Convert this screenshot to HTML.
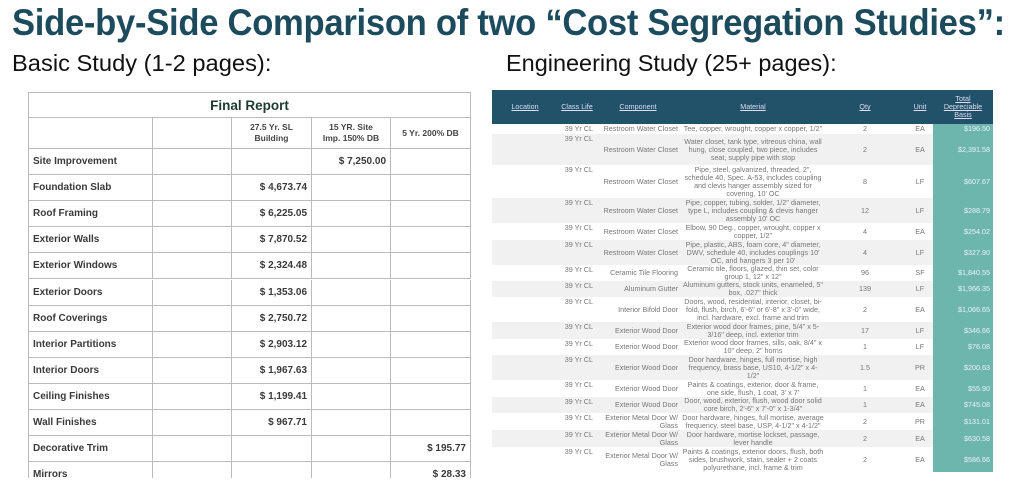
<!DOCTYPE html>
<html><head><meta charset="utf-8">
<style>
*{margin:0;padding:0;box-sizing:border-box}
body{width:1024px;height:499px;background:#fff;position:relative;overflow:hidden;font-family:"Liberation Sans",sans-serif}
.abs{position:absolute}
#title{left:12px;top:2px;font-size:37px;font-weight:bold;color:#1d4b5e;white-space:nowrap;transform-origin:0 0;transform:scaleX(0.935);letter-spacing:-0.3px}
.sub{top:50px;font-size:23px;color:#111;white-space:nowrap;transform-origin:0 0}
#left{left:28px;top:92px;width:443px;height:386px;overflow:hidden}
.lc{position:absolute;border-right:1px solid #bbb;border-bottom:1px solid #bbb;font-size:10px;color:#3a3a3a;font-weight:bold;display:flex;align-items:center;white-space:nowrap}
.rt{position:absolute;font-size:7.2px;color:#777;white-space:nowrap;line-height:8px}
</style></head><body>
<div id="title" class="abs">Side-by-Side Comparison of two “Cost Segregation Studies”:</div>
<div class="abs sub" style="left:12px;transform:scaleX(1.03)">Basic Study (1-2 pages):</div>
<div class="abs sub" style="left:506px;transform:scaleX(1.02)">Engineering Study (25+ pages):</div>
<div id="left" class="abs" style="border-left:1px solid #bbb;border-top:1px solid #bbb"></div>
<div id="right" class="abs" style="left:0;top:0;width:1024px;height:499px"></div>
<script>
const leftRows=["Site Improvement","Foundation Slab","Roof Framing","Exterior Walls","Exterior Windows","Exterior Doors","Roof Coverings","Interior Partitions","Interior Doors","Ceiling Finishes","Wall Finishes","Decorative Trim","Mirrors"];
const leftCol=[2,1,1,1,1,1,1,1,1,1,1,3,3];
const leftVals=["$ 7,250.00","$ 4,673.74","$ 6,225.05","$ 7,870.52","$ 2,324.48","$ 1,353.06","$ 2,750.72","$ 2,903.12","$ 1,967.63","$ 1,199.41","$ 967.71","$ 195.77","$ 28.33"];
const L=document.getElementById('left');
const colX=[0,124,203,283,362,442];
function lc(x,y,w,h,txt,align,name,extra){const d=document.createElement('div');d.className='lc';


d.style.left=x+'px';d.style.top=y+'px';d.style.width=w+'px';d.style.height=h+'px';d.style.justifyContent=align;d.style.padding='0 4px';if(extra)Object.assign(d.style,extra);d.innerHTML=txt;L.appendChild(d);return d;}
lc(0,0,442,25,'Final Report','center','final-report-title',{fontSize:'13.5px',color:'#1e3b30'});
const hdr=['','','27.5 Yr. SL<br>Building','15 YR. Site<br>Imp. 150% DB','5 Yr. 200% DB'];
for(let c=0;c<5;c++)lc(colX[c],25,colX[c+1]-colX[c],31,hdr[c],'center','column-header',{fontSize:'8.5px',textAlign:'center',lineHeight:'11px',color:'#444'});
leftRows.forEach((r,i)=>{const y=56+i*26.1;
lc(0,y,124,26.1,r,'flex-start','row-label');
for(let c=1;c<5;c++)lc(colX[c],y,colX[c+1]-colX[c],26.1,c===leftCol[i]+1?leftVals[i]:'','flex-end','value-cell');});

const comp=["Restroom Water Closet","Restroom Water Closet","Restroom Water Closet","Restroom Water Closet","Restroom Water Closet","Restroom Water Closet","Ceramic Tile Flooring","Aluminum Gutter","Interior Bifold Door","Exterior Wood Door","Exterior Wood Door","Exterior Wood Door","Exterior Wood Door","Exterior Wood Door","Exterior Metal Door W/<br>Glass","Exterior Metal Door W/<br>Glass","Exterior Metal Door W/<br>Glass"];
const mat=["Tee, copper, wrought, copper x copper, 1/2\"","Water closet, tank type, vitreous china, wall<br>hung, close coupled, two piece, includes<br>seat, supply pipe with stop","Pipe, steel, galvanized, threaded, 2\",<br>schedule 40, Spec. A-53, includes coupling<br>and clevis hanger assembly sized for<br>covering, 10' OC","Pipe, copper, tubing, solder, 1/2\" diameter,<br>type L, includes coupling &amp; clevis hanger<br>assembly 10' OC","Elbow, 90 Deg., copper, wrought, copper x<br>copper, 1/2\"","Pipe, plastic, ABS, foam core, 4\" diameter,<br>DWV, schedule 40, includes couplings 10'<br>OC, and hangers 3 per 10'","Ceramic tile, floors, glazed, thin set, color<br>group 1, 12\" x 12\"","Aluminum gutters, stock units, enameled, 5\"<br>box, .027\" thick","Doors, wood, residential, interior, closet, bi-<br>fold, flush, birch, 6'-6\" or 6'-8\" x 3'-0\" wide,<br>incl. hardware, excl. frame and trim","Exterior wood door frames, pine, 5/4\" x 5-<br>3/16\" deep, incl. exterior trim","Exterior wood door frames, sills, oak, 8/4\" x<br>10\" deep, 2\" horns","Door hardware, hinges, full mortise, high<br>frequency, brass base, US10, 4-1/2\" x 4-<br>1/2\"","Paints &amp; coatings, exterior, door &amp; frame,<br>one side, flush, 1 coat, 3' x 7'","Door, wood, exterior, flush, wood door solid<br>core birch, 2'-6\" x 7'-0\" x 1-3/4\"","Door hardware, hinges, full mortise, average<br>frequency, steel base, USP, 4-1/2\" x 4-1/2\"","Door hardware, mortise lockset, passage,<br>lever handle","Paints &amp; coatings, exterior doors, flush, both<br>sides, brushwork, stain, sealer + 2 coats<br>polyurethane, incl. frame &amp; trim"];
const qty=["2","2","8","12","4","4","96","139","2","17","1","1.5","1","1","2","2","2"];
const unit=["EA","EA","LF","LF","EA","LF","SF","LF","EA","LF","LF","PR","EA","EA","PR","EA","EA"];
const total=["$196.50","$2,391.58","$607.67","$288.79","$254.02","$327.90","$1,840.55","$1,966.35","$1,066.65","$346.66","$76.08","$200.63","$55.90","$745.08","$131.01","$630.58","$586.66"];
const tops=[124,134,165,198,223,240,265,281,297,322,339,355,380,397,413,430,447,472];
const R=document.getElementById('right');
function el(x,y,w,h,html,name,st){const d=document.createElement('div');d.className='rt';


d.style.left=x+'px';d.style.top=y+'px';d.style.width=w+'px';if(h)d.style.height=h+'px';d.innerHTML=html;if(st)Object.assign(d.style,st);R.appendChild(d);return d;}
el(492,90,501,34,'','table-header-bar',{background:'#22516a'});
const hd=[["Location",500,50],["Class Life",557,40],["Component",603,70],["Material",703,100],["Qty",850,30],["Unit",905,30],["Total<br>Depreciable<br>Basis",933,60]];
hd.forEach(h=>el(h[1],h[0].indexOf('<br>')>0?95:103,h[2],0,h[0],'header-'+h[0].split('<')[0].toLowerCase().replace(/ /g,'-'),{color:'#dde',textAlign:'center',textDecoration:'underline',lineHeight:'8px'}));
el(933,124,60,348,'','total-column-bg',{background:'#6cb6ae'});
total.forEach((t,i)=>{const y=tops[i],h=tops[i+1]-y;
if(i%2===1)el(492,y,441,h,'','row-bg',{background:'#f1f1f1'});
el(550,y+1,43,0,'39 Yr CL','class-life-cell',{textAlign:'right'});
const flex={display:'flex',alignItems:'center',height:h+'px'};
el(590,y,88,h,comp[i],'component-cell',Object.assign({justifyContent:'flex-end',textAlign:'right'},flex));
el(672,y,162,h,mat[i],'material-cell',Object.assign({justifyContent:'center',textAlign:'center'},flex));
el(850,y,30,h,qty[i],'qty-cell',Object.assign({justifyContent:'center'},flex));
el(905,y,30,h,unit[i],'unit-cell',Object.assign({justifyContent:'center'},flex));
el(933,y,57,h,t,'total-cell',Object.assign({justifyContent:'flex-end',color:'#eef'},flex));});
</script>
</body></html>
